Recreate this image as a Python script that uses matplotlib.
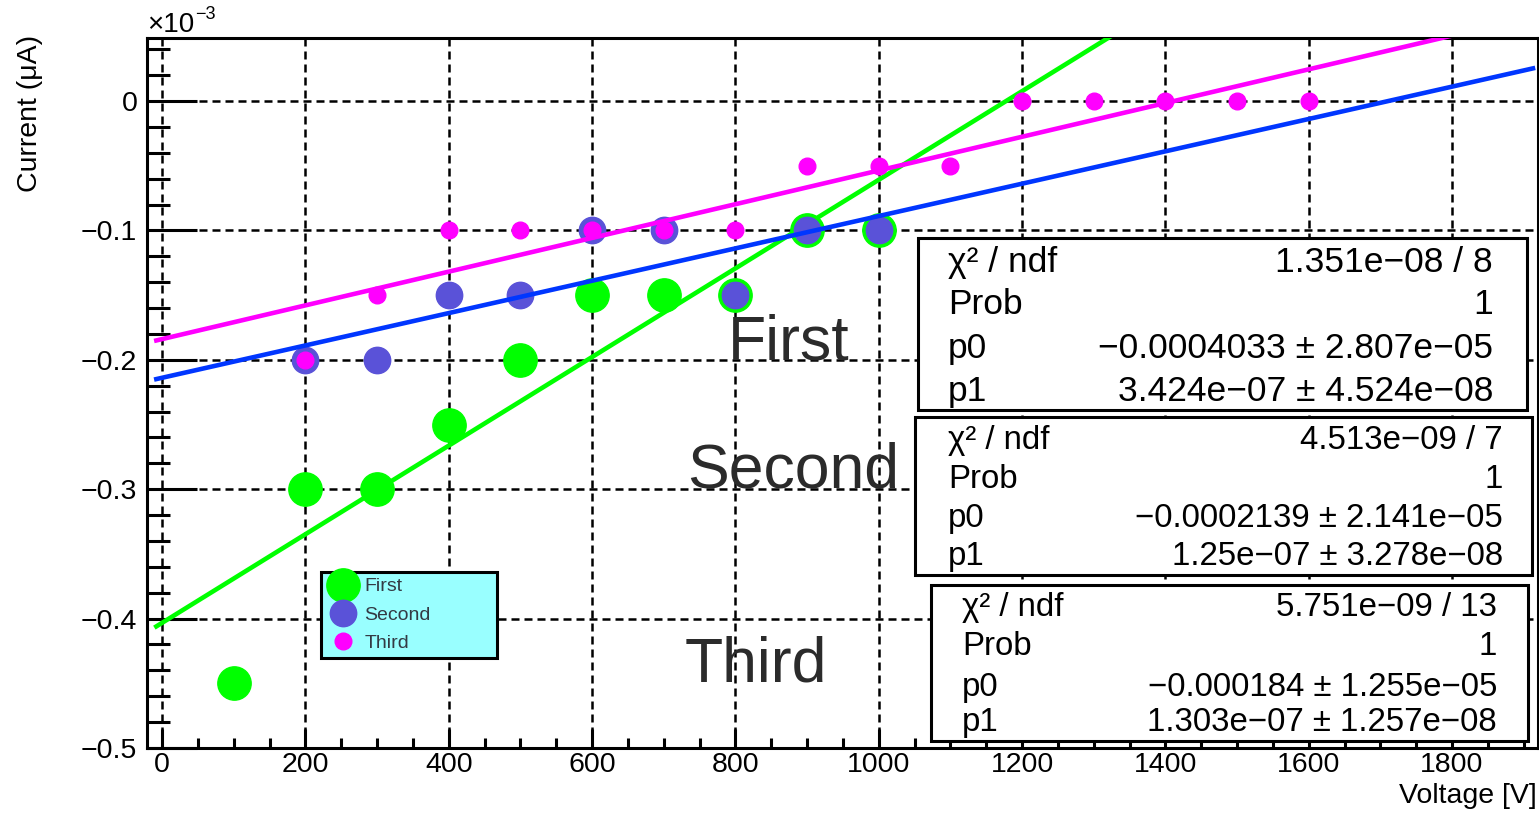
import numpy as np
import matplotlib
matplotlib.use("Agg")
import matplotlib.pyplot as plt
import matplotlib.ticker as ptick
from matplotlib.patches import Rectangle

plt.rcParams['font.family'] = ['Liberation Sans', 'DejaVu Sans']

# measured I-V points, current in uA
voltage_first = [100, 200, 300, 400, 500, 600, 700, 800, 900, 1000]
current_first = [-0.00045, -0.0003, -0.0003, -0.00025, -0.0002, -0.00015, -0.00015, -0.00015, -0.0001, -0.0001]

voltage_second = [200, 300, 400, 500, 600, 700, 800, 900, 1000]
current_second = [-0.0002, -0.0002, -0.00015, -0.00015, -0.0001, -0.0001, -0.00015, -0.0001, -0.0001]

voltage_third = [200, 300, 400, 500, 600, 700, 800, 900, 1000, 1100, 1200, 1300, 1400, 1500, 1600]
current_third = [-0.0002, -0.00015, -0.0001, -0.0001, -0.0001, -0.0001, -0.0001, -0.00005, -0.00005, -0.00005,
                 0.0, 0.0, 0.0, 0.0, 0.0]

names = ["First", "Second", "Third"]

# pol1 fit results
chi2 = [1.351e-08, 4.513e-09, 5.751e-09]
ndf = [8, 7, 13]
prob = [1, 1, 1]
p0 = [-0.0004033, -0.0002139, -0.000184]
p0_err = [2.807e-05, 2.141e-05, 1.255e-05]
p1 = [3.424e-07, 1.25e-07, 1.303e-07]
p1_err = [4.524e-08, 3.278e-08, 1.257e-08]

scale = 1e-3
W, H = 1539, 815


def fx(px):
    return px / W


def fy(py):
    return 1 - py / H


def num(v):
    return "{:.4g}".format(v).replace("-", "\u2212")


fig = plt.figure(figsize=(W / 100, H / 100), dpi=100)
ax = fig.add_axes([fx(147), fy(748), fx(1538) - fx(147), fy(38) - fy(748)])

ax.set_xlim(-21, 1920)
ax.set_ylim(-0.5, 0.0487)

ax.grid(True, which='major', color='k', linestyle=(0, (3.2, 2)), linewidth=1.8, zorder=0)
ax.set_axisbelow(True)

# graphs + fitted lines
xfit = np.array([-8, 1913])
ms_list = [24, 19, 12]
marker_col = ['#00ff00', '#5a52d8', '#ff00ff']
line_col = ['#00ff00', '#0036ff', '#ff00ff']
data = [(voltage_first, current_first), (voltage_second, current_second), (voltage_third, current_third)]
handles = []
for i in range(3):
    v, c = data[i]
    h, = ax.plot(v, np.array(c) / scale, 'o', ms=ms_list[i], color=marker_col[i], mec=marker_col[i],
                 label=names[i], zorder=3 + 2 * i)
    handles.append(h)
    ax.plot(xfit, (p0[i] + p1[i] * xfit) / scale, color=line_col[i], lw=3.3, zorder=4 + 2 * i)

ax.xaxis.set_major_locator(ptick.MultipleLocator(200))
ax.xaxis.set_minor_locator(ptick.MultipleLocator(50))
ax.yaxis.set_major_locator(ptick.MultipleLocator(0.1))
ax.yaxis.set_minor_locator(ptick.MultipleLocator(0.02))
ax.yaxis.set_major_formatter(ptick.FuncFormatter(lambda v, p: num(round(v, 3)) if abs(v) > 1e-9 else "0"))

ax.tick_params(axis='both', which='both', direction='in', width=2.2, top=False, right=False, labelsize=20.5)
ax.tick_params(axis='y', which='major', length=36, pad=7)
ax.tick_params(axis='y', which='minor', length=16.5)
ax.tick_params(axis='x', which='major', length=14, pad=3)
ax.tick_params(axis='x', which='minor', length=7)
for s in ax.spines.values():
    s.set_linewidth(2.2)

fig.text(fx(1537), fy(803), "Voltage [V]", ha='right', va='baseline', fontsize=20.5)
fig.text(fx(30), fy(35), "Current (\u03bcA)", ha='center', va='top', rotation=90, fontsize=20.5)
fig.text(fx(147), fy(32), "\u00d710", ha='left', va='baseline', fontsize=20)
fig.text(fx(195), fy(19), "\u22123", ha='left', va='baseline', fontsize=13)

leg = ax.legend(handles=handles, loc='upper left', mode='expand',
                bbox_to_anchor=(fx(321), fy(659), fx(497) - fx(321), fy(572) - fy(659)),
                bbox_transform=fig.transFigure, borderaxespad=0, fontsize=14,
                fancybox=False, framealpha=1, facecolor='#99ffff', edgecolor='k',
                borderpad=0.3, labelspacing=0.55, handlelength=1.67, handletextpad=0.25)
leg.get_frame().set_linewidth(2.2)
leg.set_zorder(20)
for t in leg.get_texts():
    t.set_color('#333a44')

# big labels next to the stat boxes
label_pos = [(728, 360), (687, 487), (685, 682)]
for name, (x, y) in zip(names, label_pos):
    fig.text(fx(x), fy(y), name, fontsize=45, color='#2b2b2b', ha='left', va='baseline', zorder=25)

# fit statistics boxes
boxes = [(918, 238, 1527, 410), (915, 417, 1532, 575), (931, 585, 1528, 741)]
left_x = [948, 948, 962]
right_x = [1493, 1503, 1497]
row_y = [[272, 314, 358, 401], [449, 488, 527, 565], [616, 655, 696, 731]]
fsize = [25.5, 23.8, 23.8]
for i in range(3):
    x0, y0, x1, y1 = boxes[i]
    fig.patches.append(Rectangle((fx(x0), fy(y1)), fx(x1) - fx(x0), fy(y0) - fy(y1),
                                 transform=fig.transFigure, facecolor='white', edgecolor='k',
                                 linewidth=2.2, zorder=30))
    keys = ["\u03c7\u00b2 / ndf", "Prob", "p0", "p1"]
    vals = [num(chi2[i]) + " / " + str(ndf[i]),
            str(prob[i]),
            num(p0[i]) + " \u00b1 " + num(p0_err[i]),
            num(p1[i]) + " \u00b1 " + num(p1_err[i])]
    for k, v, y in zip(keys, vals, row_y[i]):
        fig.text(fx(left_x[i]), fy(y), k, fontsize=fsize[i], ha='left', va='baseline', zorder=31)
        fig.text(fx(right_x[i]), fy(y), v, fontsize=fsize[i], ha='right', va='baseline', zorder=31)

fig.savefig("out.png", dpi=100)
